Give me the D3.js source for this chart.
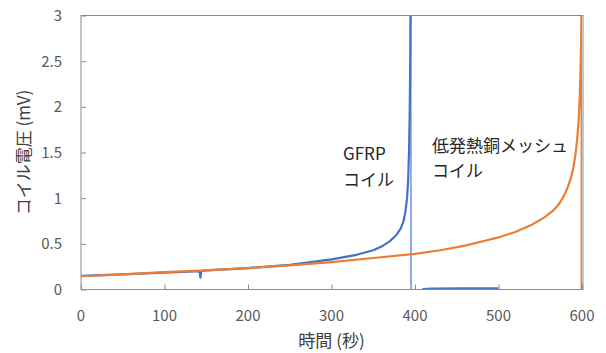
<!DOCTYPE html>
<html>
<head>
<meta charset="utf-8">
<script src="https://cdn.jsdelivr.net/npm/d3@7"></script>
<style>
  body { margin: 0; background: #fff; }
  svg { display: block; }
</style>
</head>
<body>
<svg id="chart"></svg>
<script>
"use strict";

// values (time in s, voltage in mV)
const gfrpTime = [0, 50, 100, 142, 143, 144, 150, 200, 250, 300, 330, 350, 360, 370, 378, 383, 386, 388.5, 390.5, 391.8, 392.8, 393.6, 394.3, 394.8, 395.3, 405, 410, 420, 460, 500];
const gfrpVolt = [0.15, 0.165, 0.185, 0.2, 0.13, 0.2, 0.21, 0.235, 0.27, 0.33, 0.38, 0.43, 0.47, 0.53, 0.6, 0.67, 0.74, 0.85, 1.0, 1.2, 1.5, 1.9, 2.5, 3.2, -0.2, -0.05, 0.005, 0.01, 0.012, 0.012];
const gfrpPeak = 23; // index of the spike top, where the trace drops back

const meshTime = [0, 50, 100, 150, 200, 250, 300, 350, 400, 430, 460, 480, 500, 520, 540, 555, 565, 572, 578, 583, 587, 590, 592.5, 594.5, 596, 597.2, 598.1, 598.8, 599.3, 599.6, 599.6];
const meshVolt = [0.145, 0.165, 0.19, 0.21, 0.235, 0.265, 0.3, 0.345, 0.39, 0.43, 0.48, 0.525, 0.57, 0.63, 0.71, 0.79, 0.86, 0.93, 1.02, 1.12, 1.23, 1.35, 1.5, 1.67, 1.85, 2.08, 2.35, 2.65, 3.0, 3.2, -0.1];

const xTicks = [0, 100, 200, 300, 400, 500, 600];
const yTicks = [0, 0.5, 1, 1.5, 2, 2.5, 3];

const width = 606;
const height = 353;
const marginLeft = 81;
const marginRight = 24;
const marginTop = 15.5;
const marginBottom = 63.5;

const svg = d3.select("#chart")
    .attr("width", width)
    .attr("height", height);

const x = d3.scaleLinear().domain([0, 600]).range([marginLeft, width - marginRight]);
const y = d3.scaleLinear().domain([0, 3]).range([height - marginBottom, marginTop]);

const font = "'Noto Sans CJK JP', 'Noto Sans', sans-serif";

// clip to plot area
svg.append("clipPath").attr("id", "plot")
    .append("rect")
    .attr("x", x(0)).attr("y", y(3))
    .attr("width", x(600) - x(0)).attr("height", y(0) - y(3));

// x axis (ticks inside)
svg.append("g")
    .attr("transform", `translate(0,${y(0)})`)
    .call(d3.axisTop(x).tickValues(xTicks).tickSize(5).tickFormat(""))
    .call(g => g.select(".domain").remove())
    .call(g => g.selectAll(".tick line").attr("stroke", "#8c8c8c"));

svg.append("g")
    .selectAll("text")
    .data(xTicks)
    .join("text")
    .attr("x", d => x(d))
    .attr("y", y(0) + 31)
    .attr("text-anchor", "middle")
    .attr("font-family", font)
    .attr("font-size", 15)
    .attr("fill", "#595959")
    .text(d => d);

// y axis (ticks inside)
svg.append("g")
    .attr("transform", `translate(${x(0)},0)`)
    .call(d3.axisRight(y).tickValues(yTicks).tickSize(5).tickFormat(""))
    .call(g => g.select(".domain").remove())
    .call(g => g.selectAll(".tick line").attr("stroke", "#8c8c8c"));

svg.append("g")
    .selectAll("text")
    .data(yTicks)
    .join("text")
    .attr("x", x(0) - 19)
    .attr("y", d => y(d))
    .attr("dy", "0.36em")
    .attr("text-anchor", "end")
    .attr("font-family", font)
    .attr("font-size", 15)
    .attr("fill", "#595959")
    .text(d => d);

// lines
const line = d3.line()
    .x(d => x(d[0]))
    .y(d => y(d[1]));

const plot = svg.append("g").attr("clip-path", "url(#plot)");

const gfrp = d3.zip(gfrpTime, gfrpVolt);

// the fast drop after the spike renders fainter
plot.append("path")
    .attr("fill", "none")
    .attr("stroke", "#4472c4")
    .attr("stroke-opacity", 0.6)
    .attr("stroke-width", 2)
    .attr("d", line(gfrp.slice(gfrpPeak, gfrpPeak + 2)));

plot.append("path")
    .attr("fill", "none")
    .attr("stroke", "#4472c4")
    .attr("stroke-width", 2.2)
    .attr("stroke-linejoin", "round")
    .attr("d", line(gfrp.slice(0, gfrpPeak + 1)));

plot.append("path")
    .attr("fill", "none")
    .attr("stroke", "#4472c4")
    .attr("stroke-width", 2.2)
    .attr("stroke-linejoin", "round")
    .attr("d", line(gfrp.slice(gfrpPeak + 1)));

plot.append("path")
    .attr("fill", "none")
    .attr("stroke", "#ed7d31")
    .attr("stroke-width", 2.2)
    .attr("stroke-linejoin", "round")
    .attr("d", line(d3.zip(meshTime, meshVolt)));

// plot frame
svg.append("rect")
    .attr("x", x(0)).attr("y", y(3))
    .attr("width", x(600) - x(0) + 1).attr("height", y(0) - y(3))
    .attr("fill", "none")
    .attr("stroke", "#8c8c8c");

// annotations
const notes = [
    { t: 343, v: 1.48, text: "GFRP" },
    { t: 343, v: 1.2, text: "コイル" },
    { t: 432, v: 1.57, text: "低発熱銅メッシュ" },
    { t: 432, v: 1.3, text: "コイル" }
];

svg.append("g")
    .selectAll("text")
    .data(notes)
    .join("text")
    .attr("x", d => d.t)
    .attr("y", d => y(d.v))
    .attr("dy", "0.36em")
    .attr("font-family", font)
    .attr("font-size", 17)
    .attr("fill", "#262626")
    .text(d => d.text);

// axis titles
svg.append("text")
    .attr("x", (x(0) + x(600)) / 2)
    .attr("y", 341)
    .attr("dy", "0.36em")
    .attr("text-anchor", "middle")
    .attr("font-family", font)
    .attr("font-size", 17)
    .attr("fill", "#404040")
    .text("時間 (秒)");

svg.append("text")
    .attr("transform", `translate(24,${(y(0) + y(3)) / 2}) rotate(-90)`)
    .attr("dy", "0.36em")
    .attr("text-anchor", "middle")
    .attr("font-family", font)
    .attr("font-size", 17)
    .attr("fill", "#404040")
    .text("コイル電圧 (mV)");
</script>
</body>
</html>
